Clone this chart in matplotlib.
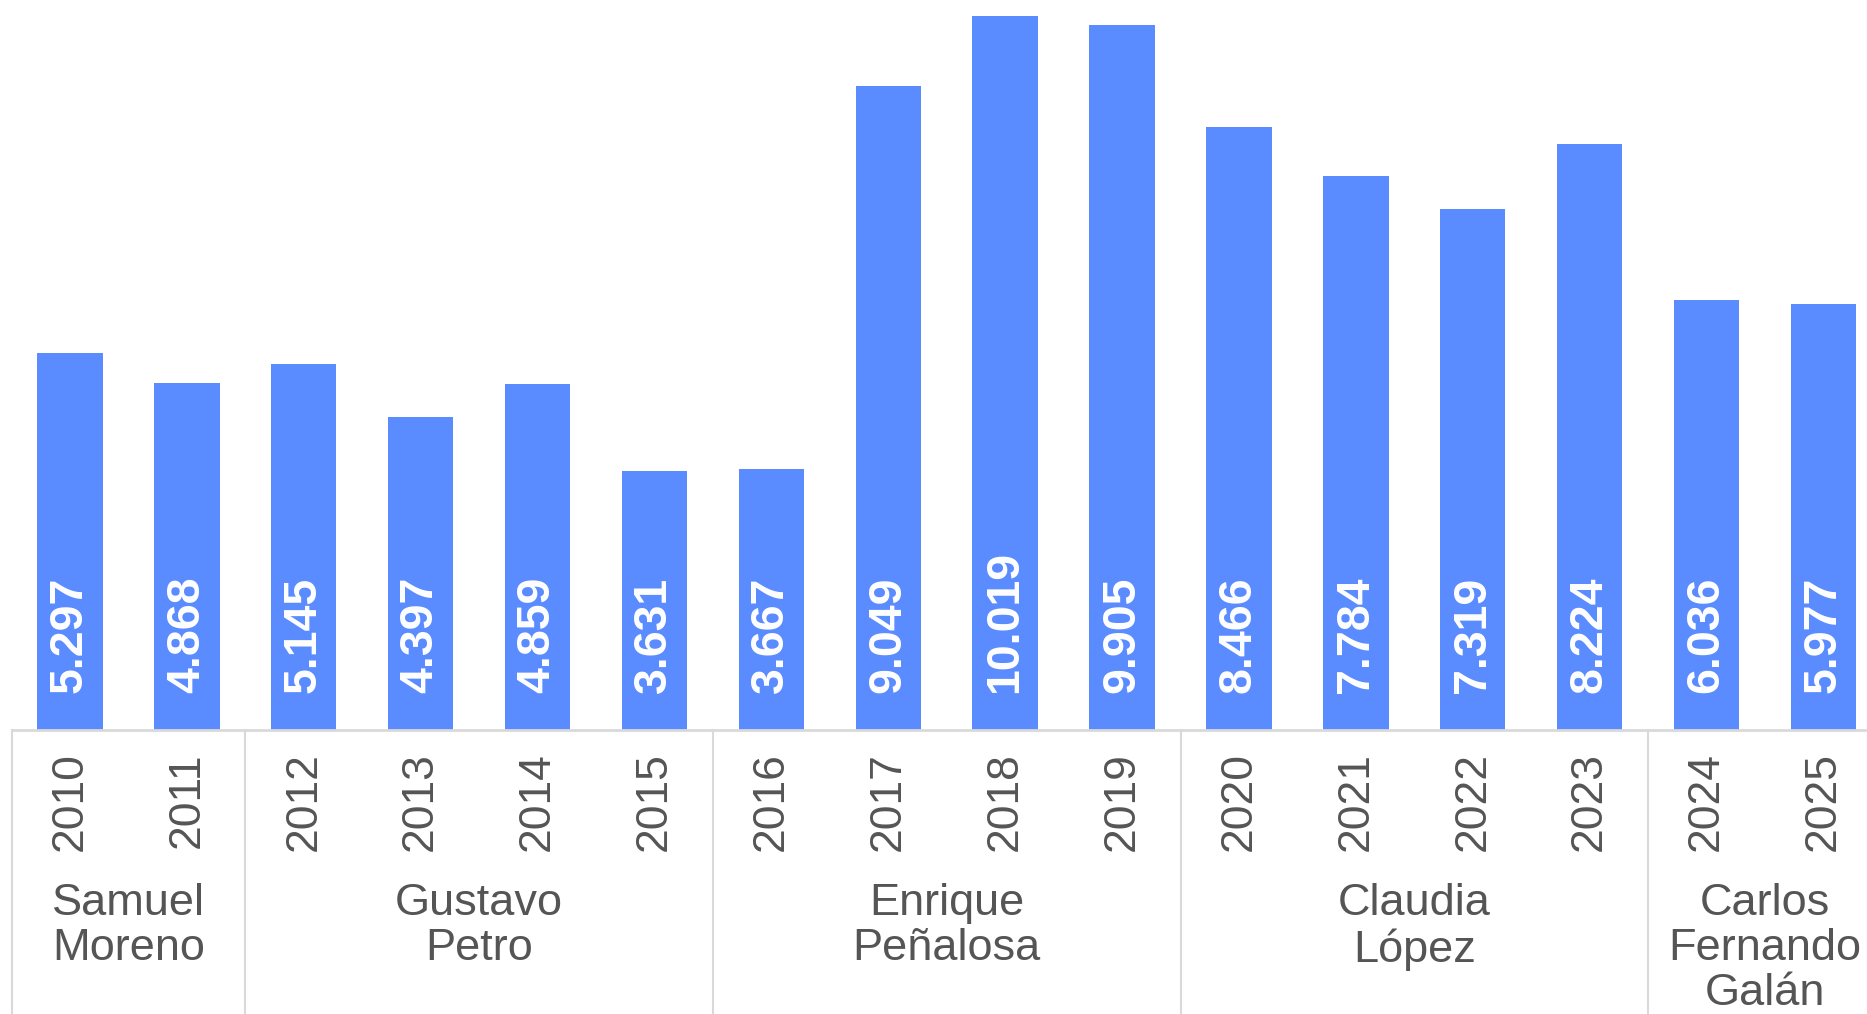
import matplotlib.pyplot as plt

years = ["2010", "2011", "2012", "2013", "2014", "2015", "2016", "2017",
         "2018", "2019", "2020", "2021", "2022", "2023", "2024", "2025"]
values = [5297, 4868, 5145, 4397, 4859, 3631, 3667, 9049,
          10019, 9905, 8466, 7784, 7319, 8224, 6036, 5977]
mayors = ["Samuel\nMoreno", "Gustavo\nPetro", "Enrique\nPeñalosa",
          "Claudia\nLópez", "Carlos\nFernando\nGalán"]
mayor_years = [2, 4, 4, 4, 2]

bar_color = "#5a8cff"
text_gray = "#555555"
line_gray = "#d9d9d9"

plt.rcParams["font.family"] = ["Liberation Sans", "DejaVu Sans"]

fig = plt.figure(figsize=(18.67, 10.14), dpi=100)
ax = fig.add_axes([11.5 / 1867, 284 / 1014, 1 - 11.5 / 1867, 730 / 1014])

x = list(range(len(values)))
ax.bar(x, values, width=0.56, color=bar_color, zorder=2)

ax.set_xlim(-0.5, -0.5 + (1867 - 11.5) / 116.9)
ax.set_ylim(0, 10250)
ax.axis("off")

# value labels inside the bars
for i, v in enumerate(values):
    label = f"{v:,}".replace(",", ".")
    ax.text(i, 520, label, rotation=90, ha="center", va="bottom",
            color="white", fontsize=33.5, fontweight="bold")

# year labels
for i, yr in enumerate(years):
    ax.text(i, -310, yr, rotation=90, ha="center", va="top",
            color=text_gray, fontsize=32)

# baseline
ax.plot([-0.5, 16], [0, 0], color=line_gray, lw=2, clip_on=False, zorder=3)

# mayor groups
start = 0
for name, n in zip(mayors, mayor_years):
    ax.plot([start - 0.5, start - 0.5], [0, -4100], color=line_gray,
            lw=1.5, clip_on=False)
    center = start + (n - 1) / 2
    ax.text(center, -2150, name, ha="center", va="top", color=text_gray,
            fontsize=32.5, linespacing=1.13)
    start += n

fig.savefig("out.png", dpi=100)
plt.close()
